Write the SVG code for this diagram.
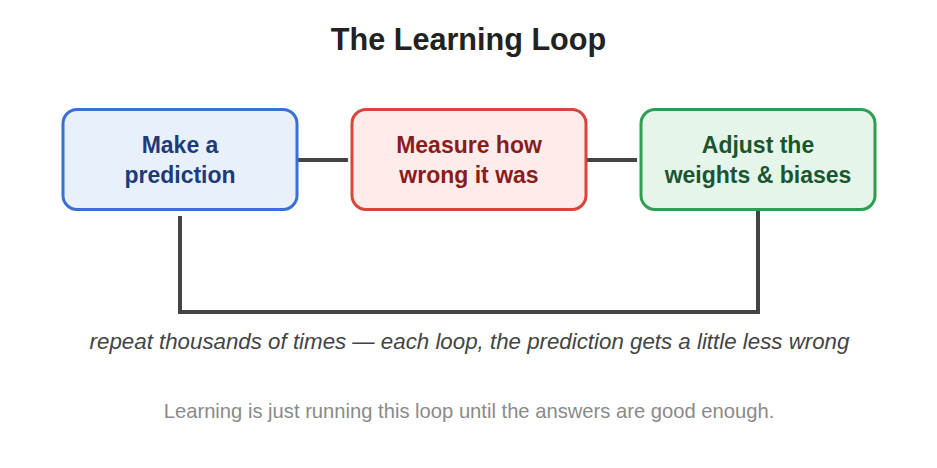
<svg xmlns="http://www.w3.org/2000/svg" width="937" height="468" viewBox="0 0 937 468">
<style>
.title{font-family:"Liberation Sans",Arial,sans-serif;font-weight:bold;font-size:30.6px;fill:#222;text-anchor:middle}
.lbl{font-family:"Liberation Sans",Arial,sans-serif;font-weight:bold;font-size:23px;text-anchor:middle}
.note{font-family:"Liberation Sans",Arial,sans-serif;font-style:italic;font-size:22.3px;fill:#444;text-anchor:middle}
.foot{font-family:"Liberation Sans",Arial,sans-serif;font-size:20.2px;fill:#8a8a8a;text-anchor:middle}
.box{stroke-width:3}
.conn{fill:none;stroke:#444;stroke-width:4}
</style>
<rect width="937" height="468" fill="#fff"/>
<text class="title" x="468.5" y="50">The Learning Loop</text>
<g id="connectors">
<line class="conn" x1="297" y1="160" x2="348" y2="160"/>
<line class="conn" x1="586" y1="160" x2="637" y2="160"/>
<path class="conn" d="M180 216 V312 H758 V210"/>
</g>
<g id="predict">
<rect class="box" x="63" y="109.5" width="234" height="100" rx="14" fill="#e8f0fc" stroke="#3a6fd6"/>
<text class="lbl" fill="#1c3b78" x="180" y="153">Make a</text>
<text class="lbl" fill="#1c3b78" x="180" y="183">prediction</text>
</g>
<g id="measure">
<rect class="box" x="352" y="109.5" width="234" height="100" rx="14" fill="#fdecea" stroke="#d8453c"/>
<text class="lbl" fill="#8a1c1c" x="469" y="153">Measure how</text>
<text class="lbl" fill="#8a1c1c" x="469" y="183">wrong it was</text>
</g>
<g id="adjust">
<rect class="box" x="641" y="109.5" width="234" height="100" rx="14" fill="#e5f5ea" stroke="#2f9d52"/>
<text class="lbl" fill="#1a5530" x="758" y="153">Adjust the</text>
<text class="lbl" fill="#1a5530" x="758" y="183">weights &amp; biases</text>
</g>
<text class="note" x="469.5" y="349">repeat thousands of times — each loop, the prediction gets a little less wrong</text>
<text class="foot" x="469" y="418">Learning is just running this loop until the answers are good enough.</text>
</svg>
